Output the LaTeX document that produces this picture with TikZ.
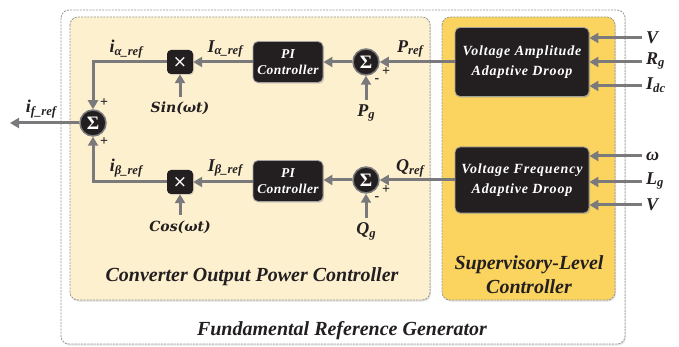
\documentclass[tikz,border=0pt]{standalone}
\usepackage{fontspec}
\setmainfont{Liberation Serif}
\newfontfamily\camfont{DejaVu Serif}
\newfontfamily\sansfnt{DejaVu Sans}
\usetikzlibrary{arrows.meta,shadows}
\newcommand{\sbs}[1]{\raisebox{-0.35ex}{\scalebox{0.7}{#1}}}
\definecolor{arrgray}{RGB}{122,122,124}
\definecolor{boxdark}{RGB}{35,31,32}
\definecolor{cream}{RGB}{253,240,207}
\definecolor{yel}{RGB}{250,212,95}
\definecolor{dashgray}{RGB}{150,150,150}
\tikzset{
  arr/.style={draw=arrgray, line width=3pt, -{Triangle[length=9pt,width=10pt]}},
  blk/.style={rectangle, rounded corners=5pt, fill=boxdark, draw=arrgray!70, line width=0.8pt,
    text=white, align=center, font=\fontsize{14}{20}\selectfont\bfseries\itshape\addfontfeatures{LetterSpace=6},
    drop shadow={opacity=0.35, shadow xshift=1.2pt, shadow yshift=-1.2pt}},
  piblk/.style={blk, minimum width=70pt, minimum height=41pt,
    font=\fontsize{13.5}{16}\selectfont\bfseries\itshape\addfontfeatures{LetterSpace=3}},
  sig/.style={circle, minimum size=26pt, inner sep=0pt, fill=boxdark, draw=arrgray, line width=1.5pt,
    text=white, font=\fontsize{19}{19}\selectfont\bfseries},
  mul/.style={rectangle, rounded corners=4pt, minimum width=26pt, minimum height=24pt, inner sep=0pt,
    fill=boxdark, text=white, font=\sansfnt\fontsize{17}{17}\selectfont,
    drop shadow={opacity=0.3, shadow xshift=1pt, shadow yshift=-1pt}},
  lbl/.style={font=\fontsize{18}{20}\selectfont\bfseries\itshape, inner sep=1pt, text=boxdark},
  clbl/.style={font=\camfont\fontsize{14}{16}\selectfont\bfseries\itshape, inner sep=1pt, text=boxdark},
  sgn/.style={font=\fontsize{14}{14}\selectfont\bfseries, inner sep=0pt, text=boxdark},
  panel/.style={draw=dashgray, dash pattern=on 2pt off 1.2pt, line width=0.8pt, rounded corners=8pt},
  ttl/.style={font=\fontsize{20}{24}\selectfont\bfseries\itshape, align=center, text=boxdark}
}
\begin{document}
\begin{tikzpicture}[x=1pt,y=-1pt]
\useasboundingbox (0,0) rectangle (679,347);
% panels
\draw[panel, fill=white, drop shadow={opacity=0.2, shadow xshift=1pt, shadow yshift=-1.5pt}] (61,10) rectangle (625,344);
\draw[panel, fill=cream, drop shadow={opacity=0.25, shadow xshift=1pt, shadow yshift=-1.5pt}] (70,17) rectangle (430,300);
\draw[panel, fill=yel, drop shadow={opacity=0.25, shadow xshift=1pt, shadow yshift=-1.5pt}] (442,17) rectangle (615,300);
\node[ttl] (tfrg) at (342,331) {Fundamental Reference Generator};
\node[ttl] (tcopc) at (252,277) {Converter Output Power Controller};
\node[ttl] (tslc) at (529,275) {Supervisory-Level\\Controller};

% blocks
\node[blk, minimum width=134pt, minimum height=69pt] (va) at (522,62) {Voltage Amplitude\\Adaptive Droop};
\node[blk, minimum width=134pt, minimum height=66pt] (vf) at (522,180) {Voltage Frequency\\Adaptive Droop};
\node[piblk] (pi1) at (288,62) {PI\\Controller};
\node[piblk] (pi2) at (288,181) {PI\\Controller};
\node[sig] (s1) at (366,62) {Σ};
\node[sig] (s2) at (366,180) {Σ};
\node[sig] (sl) at (93,123) {Σ};
\node[mul] (m1) at (180,62) {×};
\node[mul] (m2) at (180,182) {×};

% free ends
\coordinate (inV1) at (642,38);
\coordinate (inR) at (642,62);
\coordinate (inI) at (642,86);
\coordinate (inW) at (642,156);
\coordinate (inL) at (642,182);
\coordinate (inV2) at (642,205);
\coordinate (pgs) at (366,100);
\coordinate (qgs) at (366,218);
\coordinate (sins) at (180,97);
\coordinate (coss) at (180,215);
\coordinate (out) at (10,123);
\coordinate (c1) at (93,62);
\coordinate (c2) at (93,182);

% connectors
\draw[arr] (inV1) -- (va.east |- inV1);
\draw[arr] (inR) -- (va.east |- inR);
\draw[arr] (inI) -- (va.east |- inI);
\draw[arr] (inW) -- (vf.east |- inW);
\draw[arr] (inL) -- (vf.east |- inL);
\draw[arr] (inV2) -- (vf.east |- inV2);
\draw[arr] (va.west) -- (s1.east);
\draw[arr] (vf.west |- s2) -- (s2.east);
\draw[arr] (s1.west) -- (pi1.east);
\draw[arr] (s2.west) -- (pi2.east |- s2);
\draw[arr] (pi1.west) -- (m1.east);
\draw[arr] (pi2.west |- m2) -- (m2.east);
\draw[arr] (pgs) -- (s1.south);
\draw[arr] (qgs) -- (s2.south);
\draw[arr] (sins) -- (m1.south);
\draw[arr] (coss) -- (m2.south);
\draw[arr] (m1.west) -- (c1) -- (sl.north);
\draw[arr] (m2.west) -- (c2) -- (sl.south);
\draw[arr] (sl.west) -- (out);

% labels
\node[lbl, anchor=west] (lV1) at (645,38) {V};
\node[lbl, anchor=west] (lR) at (645,61) {R\sbs{g}};
\node[lbl, anchor=west] (lI) at (645,85) {I\sbs{dc}};
\node[lbl, anchor=west] (lW) at (645,156) {ω};
\node[lbl, anchor=west] (lL) at (645,181) {L\sbs{g}};
\node[lbl, anchor=west] (lV2) at (645,205) {V};
\node[lbl] (lpref) at (410,49) {P\sbs{ref}};
\node[lbl] (lqref) at (410,168) {Q\sbs{ref}};
\node[lbl] (lpg) at (366,113) {P\sbs{g}};
\node[lbl] (lqg) at (366,231) {Q\sbs{g}};
\node[lbl] (lIa) at (225,49) {I\sbs{α\_ref}};
\node[lbl] (lIb) at (225,168) {I\sbs{β\_ref}};
\node[lbl] (lia) at (126,49) {i\sbs{α\_ref}};
\node[lbl] (lib) at (126,168) {i\sbs{β\_ref}};
\node[lbl] (lif) at (41,109) {i\sbs{f\_ref}};
\node[clbl] (lsin) at (180,108) {Sin(ωt)};
\node[clbl] (lcos) at (180,227) {Cos(ωt)};
% signs
\node[sgn] (p1) at (386,72) {+};
\node[sgn] (n1) at (377,81) {-};
\node[sgn] (p2) at (386,190) {+};
\node[sgn] (n2) at (377,199) {-};
\node[sgn] (p3) at (104,103) {+};
\node[sgn] (p4) at (104,142) {+};
\end{tikzpicture}
\end{document}
